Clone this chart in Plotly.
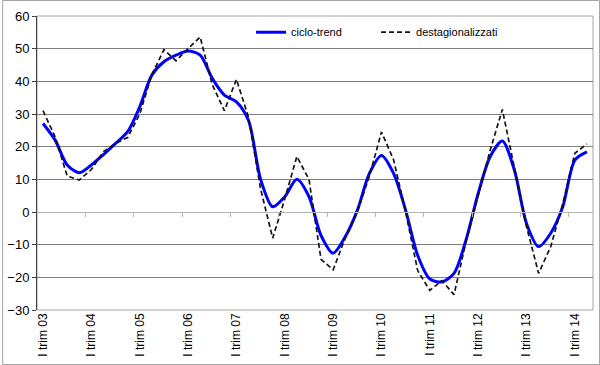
import plotly.graph_objects as go

quarters = list(range(46))
tick_positions = [0, 4, 8, 12, 16, 20, 24, 28, 32, 36, 40, 44]
tick_labels = ["I trim 03", "I trim 04", "I trim 05", "I trim 06", "I trim 07", "I trim 08",
               "I trim 09", "I trim 10", "I trim 11", "I trim 12", "I trim 13", "I trim 14"]

ciclo_trend = [27.1, 22.0, 14.4, 12.0, 14.4, 17.6, 21.0, 24.6, 32.2, 41.9,
               46.0, 48.0, 49.3, 48.0, 40.9, 35.8, 33.7, 28.0, 10.0, 1.6,
               4.7, 10.0, 4.7, -7.2, -12.6, -7.6, 0.5, 11.8, 17.3, 11.8,
               0.5, -13.3, -20.5, -21.4, -18.8, -8.5, 5.7, 17.0, 21.7, 12.8,
               -3.5, -10.6, -6.5, 1.6, 15.9, 18.4]

destagionalizzati = [31.0, 23.0, 11.0, 9.8, 13.0, 18.5, 21.0, 22.8, 30.0, 42.0,
                     49.7, 46.3, 50.0, 53.6, 39.0, 31.0, 40.6, 29.0, 7.0, -8.0,
                     4.0, 17.0, 10.0, -14.5, -17.7, -8.0, 0.0, 11.0, 24.5, 16.0,
                     0.0, -18.0, -24.0, -21.0, -25.3, -9.0, 5.0, 19.0, 31.4, 13.5,
                     -4.5, -18.8, -10.6, 2.5, 18.0, 20.8]

boundary_ticks = [3.5, 7.5, 11.5, 15.5, 19.5, 23.5, 27.5, 31.5, 35.5, 39.5, 43.5]

FONT = "Liberation Sans, Arial, sans-serif"

fig = go.Figure()

fig.add_trace(go.Scatter(
    x=quarters, y=ciclo_trend, name="ciclo-trend", mode="lines",
    line=dict(color="#0000FF", width=3, shape="spline", smoothing=0.8),
))
fig.add_trace(go.Scatter(
    x=quarters, y=destagionalizzati, name="destagionalizzati", mode="lines",
    line=dict(color="#141414", width=1.7, dash="5px,3px"),
))
# invisible helper trace so the zero-line axis renders
fig.add_trace(go.Scatter(
    x=[quarters[0]], y=[0], xaxis="x2", mode="markers",
    marker=dict(opacity=0), showlegend=False, hoverinfo="skip",
))

T, B, L, R = 16, 55, 35, 7
W, H = 600, 365
pw, ph = W - L - R, H - T - B
zero_pos = 30 / 90

fig.update_layout(
    width=W, height=H,
    margin=dict(l=L, r=R, t=T, b=B),
    paper_bgcolor="white", plot_bgcolor="white",
    font=dict(family=FONT, size=12, color="#000000"),
    showlegend=True,
    legend=dict(orientation="h", x=0.385, y=0.945, xanchor="left", yanchor="middle",
                bgcolor="rgba(0,0,0,0)", font=dict(size=11), entrywidth=80,
                itemwidth=30, tracegroupgap=0),
    xaxis=dict(range=[-0.5, 45.5], tickmode="array", tickvals=tick_positions,
               ticktext=tick_labels, tickangle=-90, showgrid=False, zeroline=False,
               showline=False, ticks="", tickfont=dict(size=12)),
    xaxis2=dict(overlaying="x", anchor="free", position=zero_pos, range=[-0.5, 45.5],
                showline=True, linecolor="#b4b4b4", linewidth=1,
                tickmode="array", tickvals=boundary_ticks, ticks="outside",
                ticklen=4, tickcolor="#b4b4b4", showticklabels=False, showgrid=False,
                zeroline=False),
    yaxis=dict(range=[-30, 60], dtick=10, showgrid=True, gridcolor="#7f7f7f",
               gridwidth=1, zeroline=False, showline=True, linecolor="#404040",
               linewidth=1, ticks="outside", ticklen=4, tickcolor="#404040",
               tickfont=dict(size=13)),
    shapes=[
        dict(type="rect", xref="paper", yref="paper", x0=0, x1=1, y0=0, y1=1,
             line=dict(color="#a6a6a6", width=1), layer="below"),
        dict(type="rect", xref="paper", yref="paper",
             x0=(0.5 - L) / pw, x1=(W - 0.5 - L) / pw,
             y0=(H - B - (H - 0.5)) / ph, y1=(H - B - 0.5) / ph,
             line=dict(color="#a6a6a6", width=1), layer="below"),
    ],
)

fig.write_html("out.html", config={"displayModeBar": False},
               post_script="document.body.style.margin='0';document.body.style.padding='0';")
